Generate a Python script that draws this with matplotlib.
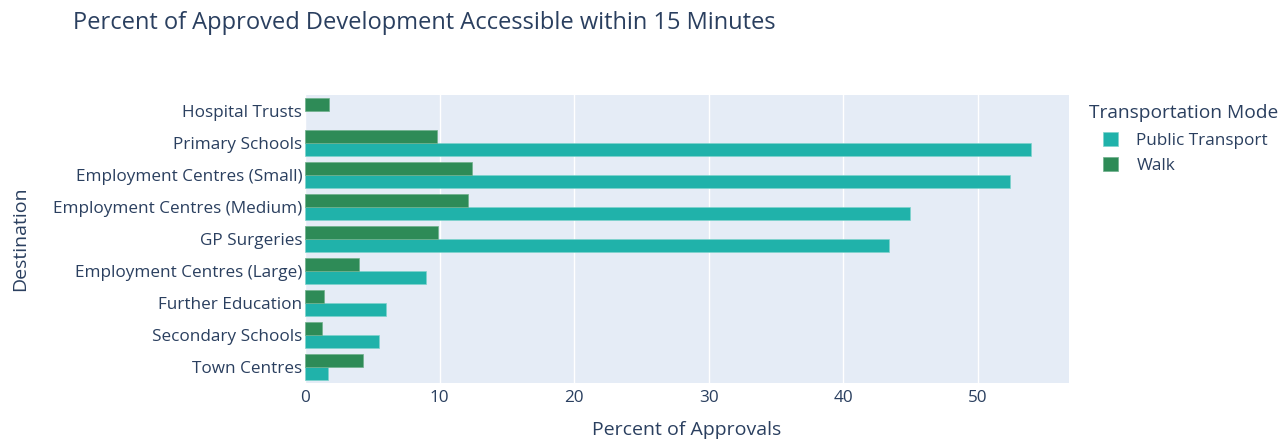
import matplotlib
matplotlib.use("Agg")
import matplotlib.pyplot as plt
import numpy as np

categories = ["Town Centres", "Secondary Schools", "Further Education",
              "Employment Centres (Large)", "GP Surgeries",
              "Employment Centres (Medium)", "Employment Centres (Small)",
              "Primary Schools", "Hospital Trusts"]
public_transport = [1.7, 5.5, 6.0, 9.0, 43.4, 45.0, 52.4, 54.0, np.nan]
walk = [4.3, 1.3, 1.4, 4.0, 9.9, 12.1, 12.4, 9.8, 1.8]
x_ticks = [0, 10, 20, 30, 40, 50]

TEXT = "#2a3f5f"
plt.rcParams['font.family'] = ['Open Sans', 'DejaVu Sans']

fig = plt.figure(figsize=(12.8, 4.4), dpi=100)
W, H = 1280, 440
left, right, top, bottom = 305, 1069, 95, 383
ax = fig.add_axes([left / W, 1 - bottom / H, (right - left) / W, (bottom - top) / H])
ax.set_facecolor("#E5ECF6")

y = np.arange(len(categories))
bw = 0.4
ax.barh(y - bw / 2, public_transport, height=bw, color="#20B2AA",
        edgecolor="#7fd3cd", linewidth=0.5, label="Public Transport", zorder=3)
ax.barh(y + bw / 2, walk, height=bw, color="#2E8B57",
        edgecolor="#6fb08c", linewidth=0.5, label="Walk", zorder=3)

ax.set_xlim(0, 56.8)
ax.set_ylim(-0.5, len(categories) - 0.5)
ax.set_xticks(x_ticks)
ax.set_yticks(y)
ax.set_yticklabels(categories)
ax.grid(axis="x", color="white", linewidth=1, zorder=0)
ax.set_axisbelow(True)
for s in ax.spines.values():
    s.set_visible(False)
ax.tick_params(axis="both", length=0, labelsize=12.3, labelcolor=TEXT)
ax.tick_params(axis="y", pad=2)
ax.tick_params(axis="x", pad=5)

fig.text(687 / W, 1 - 430 / H, "Percent of Approvals", fontsize=14, color=TEXT,
         ha="center", va="center")
fig.text(20 / W, 1 - 239 / H, "Destination", fontsize=14, color=TEXT,
         ha="center", va="center", rotation=90)

fig.text(73 / W, 1 - 23 / H, "Percent of Approved Development Accessible within 15 Minutes",
         fontsize=17, color=TEXT, va="center", ha="left")

fig.text(1089 / W, 1 - 113 / H, "Transportation Mode", fontsize=13.8, color=TEXT,
         va="center", ha="left")
leg = fig.legend(loc="upper left", bbox_to_anchor=(1103 / W, 1 - 132 / H),
                 frameon=False, fontsize=12.3, handlelength=0.9, handleheight=0.9,
                 handletextpad=1.05, labelcolor=TEXT,
                 borderaxespad=0, labelspacing=0.45, borderpad=0)

fig.savefig("out.png", dpi=100)
